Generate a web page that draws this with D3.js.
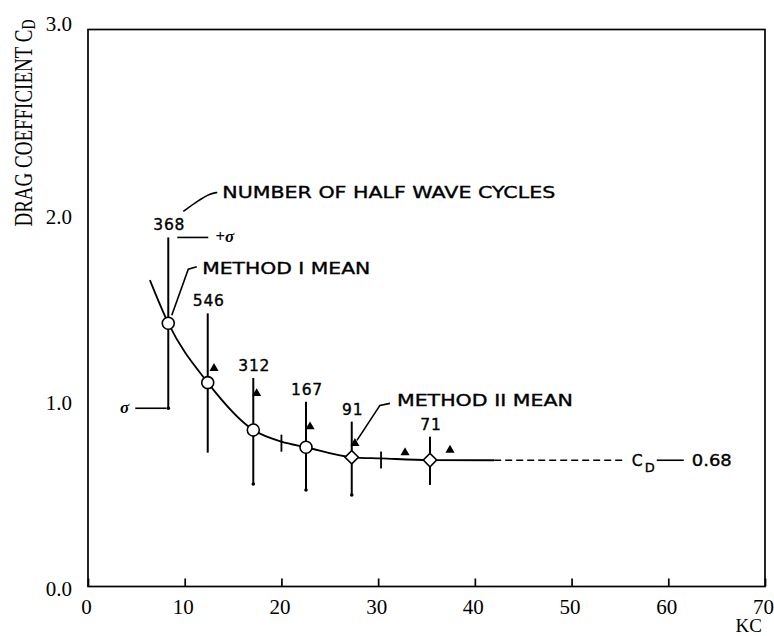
<!DOCTYPE html>
<html>
<head>
<meta charset="utf-8">
<script src="https://cdn.jsdelivr.net/npm/d3@7/dist/d3.min.js"></script>
<style>
  html, body { margin: 0; padding: 0; background: #fff; }
  svg { display: block; }
  .serif { font-family: "Liberation Serif", "DejaVu Serif", serif; fill: #000; }
  .sans { font-family: "DejaVu Sans", "Liberation Sans", sans-serif; fill: #000; stroke: #000; stroke-width: 0.35; }
</style>
</head>
<body>
<svg id="chart" width="774" height="636"></svg>
<script>
// Keulegan-Carpenter number vs. drag coefficient
const xTicks = [0, 10, 20, 30, 40, 50, 60, 70];
const yTicks = [0, 1, 2, 3];

// Method I mean with +/- one standard deviation, per KC bin
const kc      = [8.3, 12.38, 17.09, 22.54, 27.27, 35.36];
const cdMean  = [1.418, 1.098, 0.843, 0.750, 0.696, 0.681];
const cdHigh  = [1.88, 1.471, 1.123, 0.995, 0.888, 0.807];
const cdLow   = [0.96, 0.721, 0.552, 0.520, 0.493, 0.547];
const halfCycles = ["368", "546", "312", "167", "91", "71"];
const markerShape = ["circle", "circle", "circle", "circle", "diamond", "diamond"];
const endDots = [true, false, true, true, true, false];

// Method II mean
const method2KC = [13.03, 17.44, 22.96, 27.6, 32.78, 37.43];
const method2CD = [1.175, 1.04, 0.861, 0.771, 0.721, 0.735];

// Faired curve through the means
const fitKC = [6.4, 8.3, 12.38, 17.09, 20, 22.54, 27.27, 30.3, 35.36, 42];
const fitCD = [1.65, 1.418, 1.098, 0.843, 0.78, 0.750, 0.696, 0.69, 0.681, 0.68];
const fitMarksKC = [20, 30.3];
const fitMarksCD = [0.78, 0.69];

// Asymptotic value
const cdLimit = 0.68;
const dashStartKC = 42;
const dashEndKC = 55.5;

const svg = d3.select("#chart");
const x = d3.scaleLinear().domain([0, 70]).range([88, 765]);
const y = d3.scaleLinear().domain([0, 3]).range([586.5, 29.5]);

// frame
svg.append("rect")
  .attr("x", x(0)).attr("y", y(3))
  .attr("width", x(70) - x(0)).attr("height", y(0) - y(3))
  .attr("fill", "none").attr("stroke", "#000").attr("stroke-width", 1.7);

// x axis: ticks pointing inward
const gx = svg.append("g")
  .attr("transform", `translate(0,${y(0)})`)
  .call(d3.axisBottom(x).tickValues(xTicks).tickSizeInner(-8).tickSizeOuter(0).tickPadding(13));
gx.select(".domain").remove();
gx.selectAll(".tick line").attr("stroke", "#000").attr("stroke-width", 1.7);
gx.selectAll(".tick text")
  .attr("font-size", 21).attr("dx", -2)
  .attr("font-family", "Liberation Serif");

// y axis labels
const gy = svg.append("g")
  .attr("transform", `translate(${x(0)},0)`)
  .call(d3.axisLeft(y).tickValues(yTicks).tickSize(0).tickPadding(16).tickFormat(d3.format(".1f")));
gy.select(".domain").remove();
gy.selectAll(".tick text")
  .attr("font-size", 21).attr("font-family", "Liberation Serif")
  .attr("dy", d => d === 3 ? "0.05em" : "0.42em");

// axis titles
svg.append("text").attr("class", "serif")
  .attr("x", x(70) - 3).attr("y", 632)
  .attr("text-anchor", "end").attr("font-size", 19)
  .text("KC");

// tall, narrow lettering for the vertical title
const yt = svg.append("text").attr("class", "serif")
  .attr("transform", "translate(32,123) rotate(-90) scale(1,1.3)")
  .attr("text-anchor", "middle").attr("font-size", 19);
yt.append("tspan").text("DRAG COEFFICIENT C");
yt.append("tspan").attr("font-size", 14).attr("dy", 2).text("D");

// faired curve
const fit = fitKC.map((k, i) => [x(k), y(fitCD[i])]);
svg.append("path")
  .attr("d", d3.line().curve(d3.curveMonotoneX)(fit))
  .attr("fill", "none").attr("stroke", "#000").attr("stroke-width", 1.8);

// small cross marks on the curve
svg.selectAll(".fitmark").data(fitMarksKC).join("line")
  .attr("x1", d => x(d)).attr("x2", d => x(d))
  .attr("y1", (d, i) => y(fitMarksCD[i]) - 7)
  .attr("y2", (d, i) => y(fitMarksCD[i]) + 10)
  .attr("stroke", "#000").attr("stroke-width", 1.8);

// asymptote: dashed continuation of the curve
svg.append("line")
  .attr("x1", x(dashStartKC)).attr("x2", x(dashEndKC))
  .attr("y1", y(cdLimit)).attr("y2", y(cdLimit))
  .attr("stroke", "#000").attr("stroke-width", 1.6)
  .attr("stroke-dasharray", "7,4");

// error bars
svg.selectAll(".bar").data(kc).join("line")
  .attr("x1", d => x(d)).attr("x2", d => x(d))
  .attr("y1", (d, i) => y(cdHigh[i])).attr("y2", (d, i) => y(cdLow[i]))
  .attr("stroke", "#000").attr("stroke-width", 2);
svg.selectAll(".enddot").data(kc.filter((d, i) => endDots[i])).join("circle")
  .attr("cx", d => x(d))
  .attr("cy", d => y(cdLow[kc.indexOf(d)]))
  .attr("r", 1.8).attr("fill", "#000");

// method I mean markers
const circ = d3.symbol().type(d3.symbolCircle).size(Math.PI * 36);
const diam = d3.symbol().type(d3.symbolSquare).size(90);
svg.selectAll(".mean").data(kc).join("path")
  .attr("d", (d, i) => markerShape[i] === "circle" ? circ() : diam())
  .attr("transform", (d, i) => `translate(${x(d)},${y(cdMean[i])}) rotate(${markerShape[i] === "circle" ? 0 : 45})`)
  .attr("fill", "#fff").attr("stroke", "#000").attr("stroke-width", 1.6);

// method II mean markers
svg.selectAll(".m2").data(method2KC).join("path")
  .attr("d", d3.symbol().type(d3.symbolTriangle).size(36))
  .attr("transform", (d, i) => `translate(${x(d)},${y(method2CD[i])})`)
  .attr("fill", "#000");

// number of half wave cycles above each bar
svg.selectAll(".count").data(halfCycles).join("text")
  .attr("class", "sans")
  .attr("x", (d, i) => x(kc[i]) + 1)
  .attr("y", (d, i) => y(cdHigh[i]) - 13 + 6)
  .attr("text-anchor", "middle").attr("font-size", 15.5)
  .attr("letter-spacing", 0.8)
  .text(d => d);

const lbl = (t, px, py, len) => svg.append("text").attr("class", "sans")
  .attr("x", px).attr("y", py).attr("font-size", 15.5)
  .attr("textLength", len).attr("lengthAdjust", "spacingAndGlyphs")
  .text(t);
const leader = (pts, curve) => svg.append("path")
  .attr("d", d3.line().curve(curve || d3.curveLinear)(pts))
  .attr("fill", "none").attr("stroke", "#000").attr("stroke-width", 1.6);

// "NUMBER OF HALF WAVE CYCLES" call-out from the first count
const c0x = x(kc[0]), c0y = y(cdHigh[0]) - 13;
leader([[c0x + 15, c0y - 13], [c0x + 30, c0y - 24], [c0x + 42, c0y - 31], [c0x + 49, c0y - 32]], d3.curveBasis);
lbl("NUMBER OF HALF WAVE CYCLES", c0x + 54, c0y - 32 + 6, 333);

// +sigma / -sigma labels on the first bar
const hx = x(kc[0]), hy = y(cdHigh[0]), ly = y(cdLow[0]);
svg.append("line").attr("x1", hx + 9).attr("x2", hx + 40).attr("y1", hy).attr("y2", hy)
  .attr("stroke", "#000").attr("stroke-width", 1.6);
svg.append("text").attr("class", "serif").attr("x", hx + 47).attr("y", hy + 5)
  .attr("font-size", 17).attr("font-style", "italic").attr("font-weight", "bold").text("+σ");
svg.append("line").attr("x1", hx - 33).attr("x2", hx - 2).attr("y1", ly).attr("y2", ly)
  .attr("stroke", "#000").attr("stroke-width", 1.6);
svg.append("text").attr("class", "serif").attr("x", hx - 39).attr("y", ly + 5)
  .attr("text-anchor", "end").attr("font-size", 17).attr("font-style", "italic")
  .attr("font-weight", "bold").text("σ");

// "METHOD I MEAN" call-out
const m1x = x(kc[0]), m1y = y(cdMean[0]);
leader([[m1x + 3.5, m1y - 8], [m1x + 20, m1y - 54], [m1x + 28.5, m1y - 56.5]]);
lbl("METHOD I MEAN", m1x + 34, m1y - 55 + 6, 168);

// "METHOD II MEAN" call-out
const m2x = x(method2KC[3]), m2y = y(method2CD[3]);
leader([[m2x + 2, m2y - 3], [m2x + 25, m2y - 38], [m2x + 35, m2y - 40]]);
lbl("METHOD II MEAN", m2x + 42, m2y - 43 + 6, 176);

// limit value label
const ax = x(dashEndKC), ay = y(cdLimit);
svg.append("text").attr("class", "sans").attr("x", ax + 7).attr("y", ay + 6)
  .attr("font-size", 15.5).text("C");
svg.append("text").attr("class", "sans").attr("x", ax + 20).attr("y", ay + 12)
  .attr("font-size", 13).text("D");
svg.append("line").attr("x1", ax + 32).attr("x2", ax + 59).attr("y1", ay).attr("y2", ay)
  .attr("stroke", "#000").attr("stroke-width", 1.6);
svg.append("text").attr("class", "sans").attr("x", ax + 67).attr("y", ay + 6)
  .attr("font-size", 15.5).attr("textLength", 40).attr("lengthAdjust", "spacingAndGlyphs")
  .text(d3.format(".2f")(cdLimit));
</script>
</body>
</html>
